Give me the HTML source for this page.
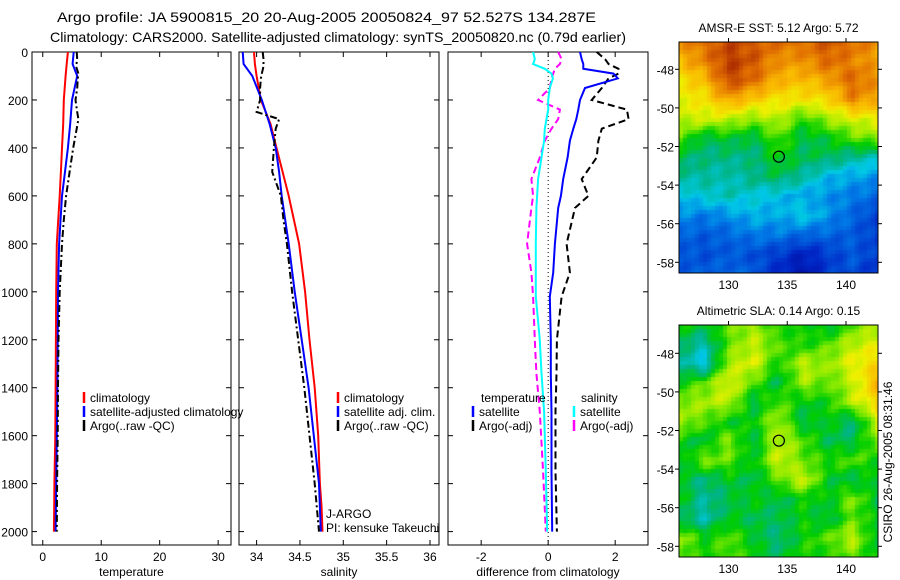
<!DOCTYPE html>
<html><head><meta charset="utf-8">
<style>
html,body{margin:0;padding:0;background:#fff;}
#wrap{position:relative;width:900px;height:580px;overflow:hidden;font-family:"Liberation Sans",sans-serif;}
svg text{font-family:"Liberation Sans",sans-serif;}
canvas{position:absolute;}
</style></head>
<body>
<div id="wrap">
<canvas id="sst" width="199" height="231" style="left:679px;top:42px;"></canvas>
<canvas id="sla" width="199" height="232" style="left:679px;top:325px;"></canvas>
<svg id="fig" width="900" height="580" style="position:absolute;left:0;top:0"></svg>
</div>
<script>
// ---- data ----
const climDepth=[0,50,100,200,300,400,500,600,800,1000,1200,1400,1600,1800,1900,2000];
const tempClim=[4.3,4.1,3.9,3.6,3.5,3.3,3.1,2.9,2.4,2.3,2.25,2.2,2.15,2.0,1.95,1.9];
const tempSat=[5.3,5.1,5.9,5.0,4.7,4.3,3.8,3.3,2.8,2.6,2.55,2.5,2.4,2.3,2.25,2.2];
const argoDepth=[0,30,60,90,110,150,200,250,280,320,400,500,600,700,800,1000,1200,1400,1600,1800,2000];
const tempArgo=[5.8,5.9,5.7,6.1,6.0,5.9,5.6,5.9,6.1,5.8,5.2,4.6,4.0,3.6,3.3,2.9,2.7,2.6,2.55,2.45,2.4];
const salClim=[33.97,33.98,34.0,34.05,34.16,34.23,34.3,34.37,34.49,34.56,34.61,34.67,34.71,34.73,34.75,34.76];
const salSat=[33.84,33.85,33.95,34.06,34.15,34.22,34.26,34.29,34.37,34.44,34.52,34.6,34.66,34.72,34.73,34.74];
const salArgo=[34.07,34.08,34.08,34.06,34.05,34.04,34.04,34.0,34.26,34.22,34.2,34.18,34.28,34.31,34.35,34.41,34.48,34.55,34.61,34.67,34.72];
const diffDepth=[0,30,50,70,90,110,150,200,240,280,320,370,440,530,600,650,800,920,1020,1200,1340,1500,1750,2000];
const dTempSat=[0.95,1.0,1.05,1.05,1.95,2.08,1.1,0.95,0.9,0.84,0.75,0.65,0.58,0.45,0.38,0.3,0.2,0.15,0.05,0.08,0.08,0.1,0.1,0.12];
const dTempArgo=[1.45,1.7,1.8,2.1,2.1,1.8,1.6,1.3,2.35,2.4,1.6,1.5,1.45,1.0,1.2,0.8,0.55,0.65,0.4,0.26,0.25,0.22,0.22,0.26];
const dSalSat=[-0.45,-0.4,-0.45,-0.1,0.1,0.14,0.05,0.0,0.0,-0.05,-0.1,-0.12,-0.2,-0.3,-0.33,-0.35,-0.37,-0.37,-0.37,-0.25,-0.2,-0.12,-0.07,-0.03];
const dSalArgo=[0.3,0.4,0.35,0.2,0.15,0.1,0.05,-0.3,0.35,0.3,0.1,-0.1,-0.25,-0.5,-0.45,-0.5,-0.63,-0.5,-0.45,-0.4,-0.35,-0.25,-0.15,-0.07];
const depthTicks=[0,200,400,600,800,1000,1200,1400,1600,1800,2000];
const tempTicks=[0,10,20,30];
const salTicks=[34,34.5,35,35.5,36];
const diffTicks=[-2,0,2];
const latTicks=[48,50,52,54,56,58];
const lonTicks=[130,135,140];

const NS='http://www.w3.org/2000/svg';
const svg=document.getElementById('fig');
function mk(tag,attrs,parent){const e=document.createElementNS(NS,tag);for(const k in attrs)e.setAttribute(k,attrs[k]);(parent||svg).appendChild(e);return e;}
function txt(s,x,y,anchor,size,parent){const t=mk('text',{x:x,y:y,'text-anchor':anchor||'start','font-size':size||12,fill:'#000'},parent);t.textContent=s;return t;}

const yD=d=>52+d*0.2398;
const Y0=52,Y1=545;

function panel(name,x0,x1,xmin,xmax,ticks,xlabel,showY){
  const g=mk('g',{});
  
  
  const sx=v=>x0+(v-xmin)/(xmax-xmin)*(x1-x0);
  mk('rect',{x:x0,y:Y0,width:x1-x0,height:Y1-Y0,fill:'none',stroke:'#000','stroke-width':1},g);
  depthTicks.forEach(d=>{const y=yD(d);
    mk('line',{x1:x0,x2:x0+5,y1:y,y2:y,stroke:'#000'},g);
    mk('line',{x1:x1-5,x2:x1,y1:y,y2:y,stroke:'#000'},g);
    if(showY){const t=txt(String(d),28,y+5,'end',12,g);}
  });
  ticks.forEach(v=>{const x=sx(v);
    mk('line',{x1:x,x2:x,y1:Y0,y2:Y0+5,stroke:'#000'},g);
    mk('line',{x1:x,x2:x,y1:Y1-5,y2:Y1,stroke:'#000'},g);
    const t=txt(String(v),x,561,'middle',12,g);
    
    
  });
  const xl=txt(xlabel,(x0+x1)/2,576,'middle',12,g);
  
  
  return {g,sx};
}
function line(p,depths,vals,color,dash,w,name){
  const pts=depths.map((d,i)=>p.sx(vals[i]).toFixed(1)+','+yD(d).toFixed(1)).join(' ');
  const pl=mk('polyline',{points:pts,fill:'none',stroke:color,'stroke-width':w||2,'stroke-dasharray':dash||'none'},p.g);
  
  
}
function legend(p,x,y,color,label,name){
  const m=mk('line',{x1:x,x2:x,y1:y-10,y2:y+1,stroke:color,'stroke-width':2.5},p.g);
  
  
  const t=txt(label,x+6,y,'start',12,p.g);
  
  
}

// titles
const t1=txt('Argo profile: JA 5900815_20 20-Aug-2005 20050824_97 52.527S 134.287E',57,22,'start',14);
t1.setAttribute('textLength','539');t1.setAttribute('lengthAdjust','spacingAndGlyphs');

const t2=txt('Climatology: CARS2000. Satellite-adjusted climatology: synTS_20050820.nc (0.79d earlier)',50,42,'start',14);
t2.setAttribute('textLength','576');t2.setAttribute('lengthAdjust','spacingAndGlyphs');


// panel 1
const p1=panel('temperature',32,231,-1.84,32.2,tempTicks,'temperature',true);
line(p1,climDepth,tempClim,'#ff0000',null,2,'temp-climatology-line');
line(p1,climDepth,tempSat,'#0000ff',null,2,'temp-satellite-line');
line(p1,argoDepth,tempArgo,'#000000','7,3,2,3',2,'temp-argo-line');
legend(p1,84,402,'#ff0000','climatology','legend-climatology');
legend(p1,84,416,'#0000ff','satellite-adjusted climatology','legend-satellite');
legend(p1,84,430,'#000000','Argo(..raw -QC)','legend-argo');

// panel 2
const p2=panel('salinity',239,439,33.797,36.104,salTicks,'salinity',false);
line(p2,climDepth,salClim,'#ff0000',null,2,'sal-climatology-line');
line(p2,climDepth,salSat,'#0000ff',null,2,'sal-satellite-line');
line(p2,argoDepth,salArgo,'#000000','7,3,2,3',2,'sal-argo-line');
legend(p2,338,402,'#ff0000','climatology','legend-sal-climatology');
legend(p2,338,416,'#0000ff','satellite adj. clim.','legend-sal-satellite');
legend(p2,338,430,'#000000','Argo(..raw -QC)','legend-sal-argo');
const ja=txt('J-ARGO',326,518,'start',12,p2.g);
const pi=txt('PI: kensuke Takeuchi',326,532,'start',12,p2.g);

// panel 3
const p3=panel('difference',448,648,-2.99,2.98,diffTicks,'difference from climatology',false);
const zx=p3.sx(0);
const zl=mk('line',{x1:zx,x2:zx,y1:Y0,y2:Y1,stroke:'#000','stroke-dasharray':'1,3'},p3.g);

line(p3,diffDepth,dTempArgo,'#000000','7,4',2,'diff-temp-argo-line');
line(p3,diffDepth,dTempSat,'#0000ff',null,2,'diff-temp-satellite-line');
line(p3,diffDepth,dSalArgo,'#ff00ff','7,4',2,'diff-sal-argo-line');
line(p3,diffDepth,dSalSat,'#00ffff',null,2,'diff-sal-satellite-line');
const lt=txt('temperature',481,402,'start',12,p3.g);
const ls=txt('salinity',581,402,'start',12,p3.g);
legend(p3,473,416,'#0000ff','satellite','legend-diff-temp-satellite');
legend(p3,473,430,'#000000','Argo(-adj)','legend-diff-temp-argo');
legend(p3,574,416,'#00ffff','satellite','legend-diff-sal-satellite');
legend(p3,574,430,'#ff00ff','Argo(-adj)','legend-diff-sal-argo');

// ---- maps ----
const sstGrid=[
[.8,.85,.9,.88,.85,.85,.88,.85,.8],
[.74,.82,.92,.88,.8,.8,.86,.82,.78],
[.68,.74,.9,.85,.76,.74,.78,.86,.8],
[.66,.68,.78,.72,.68,.68,.7,.82,.76],
[.62,.64,.62,.58,.62,.52,.6,.64,.66],
[.56,.45,.48,.45,.55,.45,.48,.55,.58],
[.45,.42,.42,.42,.5,.45,.45,.4,.38],
[.40,.40,.38,.42,.45,.40,.32,.30,.28],
[.32,.36,.38,.35,.33,.30,.28,.25,.22],
[.28,.25,.28,.32,.30,.35,.28,.22,.15],
[.22,.2,.22,.25,.25,.22,.22,.2,.15],
[.2,.18,.2,.18,.15,.1,.15,.2,.15],
[.2,.2,.22,.2,.12,.06,.15,.18,.12]];
const slaGrid=[
[.5,.48,.55,.6,.5,.52,.45,.55,.6],
[.45,.38,.55,.62,.55,.5,.55,.62,.65],
[.42,.33,.6,.65,.5,.62,.58,.66,.7],
[.5,.55,.65,.55,.45,.6,.55,.62,.76],
[.58,.6,.62,.45,.55,.48,.5,.62,.7],
[.6,.55,.48,.5,.6,.45,.5,.42,.64],
[.5,.45,.58,.45,.62,.55,.45,.45,.58],
[.45,.58,.55,.48,.64,.55,.52,.55,.5],
[.48,.42,.48,.45,.55,.64,.48,.45,.5],
[.5,.4,.45,.5,.45,.5,.48,.58,.45],
[.45,.38,.48,.45,.45,.5,.45,.55,.48],
[.6,.5,.55,.48,.42,.5,.55,.62,.45],
[.56,.5,.55,.5,.45,.52,.5,.56,.48]];
const stops=[[0,[0,0,140]],[.12,[0,40,200]],[.25,[0,120,230]],[.34,[0,200,230]],[.42,[0,180,130]],[.5,[0,205,0]],[.58,[140,235,0]],[.66,[240,240,0]],[.75,[250,185,0]],[.85,[225,110,0]],[.95,[165,35,0]],[1,[130,0,0]]];
function cmap(v){v=Math.max(0,Math.min(1,v));for(let i=1;i<stops.length;i++){if(v<=stops[i][0]){const a=stops[i-1],b=stops[i],t=(v-a[0])/(b[0]-a[0]);return a[1].map((c,k)=>Math.round(c+(b[1][k]-c)*t));}}return stops[stops.length-1][1];}
function drawMap(id,grid){
  const c=document.getElementById(id),ctx=c.getContext('2d');
  const R=grid.length,C=grid[0].length,cs=4;
  for(let py=0;py<c.height;py+=cs)for(let px=0;px<c.width;px+=cs){
    const gx=(px+2)/c.width*(C-1),gy=(py+2)/c.height*(R-1);
    const i=Math.min(Math.floor(gy),R-2),j=Math.min(Math.floor(gx),C-2),fy=gy-i,fx=gx-j;
    let v=grid[i][j]*(1-fx)*(1-fy)+grid[i][j+1]*fx*(1-fy)+grid[i+1][j]*(1-fx)*fy+grid[i+1][j+1]*fx*fy;
    v+=0.03*Math.sin(px*0.21+py*0.13)*Math.cos(py*0.17-px*0.07);
    const col=cmap(v);ctx.fillStyle='rgb('+col.join(',')+')';ctx.fillRect(px,py,cs,cs);
  }
}
drawMap('sst',sstGrid);drawMap('sla',slaGrid);

function mapAxes(name,top,bottom,title){
  const g=mk('g',{});
  
  
  const x0=679,x1=878;
  const lonX=l=>728.5+(l-130)*11.75;
  const latY=l=>bottom-10.7-(58-l)*19.3;
  mk('rect',{x:x0,y:top,width:x1-x0,height:bottom-top,fill:'none',stroke:'#000'},g);
  latTicks.forEach(l=>{const y=latY(l);
    mk('line',{x1:x0-4,x2:x0,y1:y,y2:y,stroke:'#000'},g);
    mk('line',{x1:x1,x2:x1+4,y1:y,y2:y,stroke:'#000'},g);
    const t=txt('-'+l,674,y+5,'end',12,g);});
  lonTicks.forEach(l=>{const x=lonX(l);
    mk('line',{x1:x,x2:x,y1:top-4,y2:top,stroke:'#000'},g);
    const t=txt(String(l),x,bottom+16,'middle',12,g);});
  const tt=txt(title,778.5,top-10,'middle',12,g);
  const c=mk('circle',{cx:lonX(134.287),cy:latY(52.527),r:5.5,fill:'none',stroke:'#000','stroke-width':1.2},g);
  
}
mapAxes('sst-map',42,273,'AMSR-E SST: 5.12 Argo: 5.72');
mapAxes('sla-map',325,557,'Altimetric SLA: 0.14 Argo: 0.15');
const cs=txt('CSIRO 26-Aug-2005 08:31:46',0,0,'middle',12);
cs.setAttribute('transform','translate(892,462) rotate(-90)');


</script>
</body></html>
